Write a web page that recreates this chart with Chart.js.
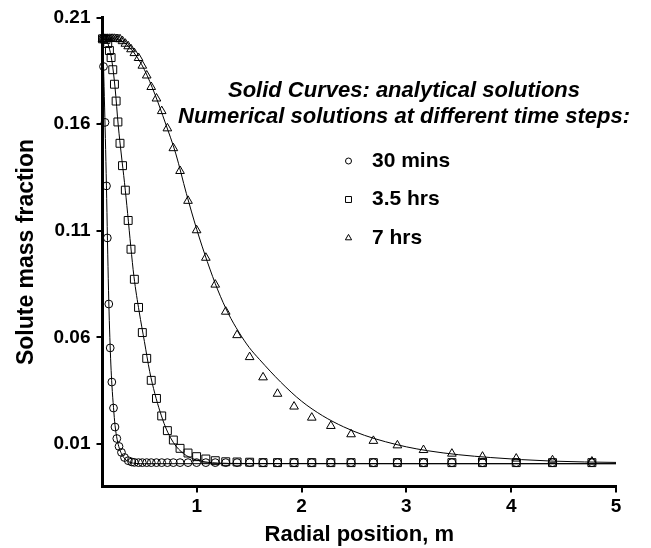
<!DOCTYPE html>
<html>
<head>
<meta charset="utf-8">
<script src="https://cdn.jsdelivr.net/npm/chart.js@4.4.0/dist/chart.umd.min.js"></script>
<style>
    html, body { margin: 0; padding: 0; background: #fff; }
    #wrap { width: 651px; height: 548px; }
</style>
</head>
<body>
<div id="wrap"><canvas id="profileChart" width="651" height="548"></canvas></div>
<script>
// radial grid of the numerical runs (3.5 hrs and 7 hrs)
const radiusGrid = [0.100, 0.116, 0.133, 0.150, 0.166, 0.182, 0.198, 0.214, 0.230, 0.247,
    0.267, 0.291, 0.318, 0.345, 0.372, 0.404, 0.444, 0.480, 0.522, 0.565,
    0.615, 0.665, 0.719, 0.776, 0.840, 0.916, 0.998, 1.086, 1.176, 1.276,
    1.384, 1.504, 1.632, 1.770, 1.928, 2.097, 2.279, 2.472, 2.685, 2.914,
    3.163, 3.434, 3.726, 4.048, 4.394, 4.770];

// the 30 min run is finer close to the well
const radius30 = [0.100, 0.1095, 0.124, 0.138, 0.146, 0.160, 0.1735, 0.189, 0.205, 0.219,
    0.2365, 0.2575, 0.281, 0.310, 0.346, 0.379, 0.404, 0.444, 0.480, 0.522,
    0.565, 0.615, 0.665, 0.719, 0.776, 0.840, 0.916, 0.998, 1.086, 1.176,
    1.276, 1.384, 1.504, 1.632, 1.770, 1.928, 2.097, 2.279, 2.472, 2.685,
    2.914, 3.163, 3.434, 3.726, 4.048, 4.394, 4.770];

const num30 = [0.2000, 0.1870, 0.1608, 0.1310, 0.1066, 0.0756, 0.0550, 0.0390, 0.0268, 0.0179,
    0.0125, 0.0088, 0.0060, 0.0036, 0.0021, 0.0015, 0.0013, 0.0012, 0.0012, 0.0012,
    0.0012, 0.0012, 0.0012, 0.0012, 0.0012, 0.0012, 0.0012, 0.0012, 0.0012, 0.0012,
    0.0012, 0.0012, 0.0012, 0.0012, 0.0012, 0.0012, 0.0012, 0.0012, 0.0012, 0.0012,
    0.0012, 0.0012, 0.0012, 0.0012, 0.0012, 0.0012, 0.0012];

const num35 = [0.2000, 0.2000, 0.1997, 0.1978, 0.1945, 0.1912, 0.1855, 0.1787, 0.1708, 0.1610,
    0.1510, 0.1405, 0.1290, 0.1148, 0.1013, 0.0872, 0.0740, 0.0622, 0.0501, 0.0398,
    0.0313, 0.0231, 0.0162, 0.0118, 0.0079, 0.0057, 0.0040, 0.0029, 0.0021, 0.0016,
    0.0015, 0.0014, 0.0012, 0.0012, 0.0012, 0.0012, 0.0012, 0.0012, 0.0012, 0.0012,
    0.0012, 0.0012, 0.0012, 0.0012, 0.0012, 0.0012];

const num70 = [0.2000, 0.2000, 0.2000, 0.2000, 0.2000, 0.2000, 0.2000, 0.2000, 0.1999, 0.1999,
    0.1998, 0.1989, 0.1977, 0.1965, 0.1951, 0.1933, 0.1910, 0.1874, 0.1828, 0.1774,
    0.1720, 0.1661, 0.1580, 0.1487, 0.1380, 0.1240, 0.1102, 0.0973, 0.0847, 0.0720,
    0.0610, 0.0507, 0.0412, 0.0335, 0.0275, 0.0223, 0.0184, 0.0145, 0.0114, 0.0093,
    0.0071, 0.0054, 0.0040, 0.0031, 0.0023, 0.0017];

// analytical solutions
const curve30X = [0.100, 0.110, 0.120, 0.130, 0.140, 0.150, 0.160, 0.170, 0.180, 0.190,
    0.205, 0.220, 0.240, 0.260, 0.280, 0.300, 0.330, 0.370, 0.420, 0.500, 5.000];
const curve30Y = [0.2000, 0.1865, 0.1680, 0.1480, 0.1250, 0.0990, 0.0770, 0.0600, 0.0470, 0.0375,
    0.0270, 0.0185, 0.0120, 0.0080, 0.0055, 0.0038, 0.0022, 0.0012, 0.0008, 0.0007, 0.0007];

const curve35X = [0.100, 0.130, 0.160, 0.190, 0.220, 0.250, 0.280, 0.310, 0.340, 0.370,
    0.400, 0.450, 0.500, 0.550, 0.600, 0.650, 0.700, 0.750, 0.800, 0.850,
    0.900, 1.000, 1.100, 1.200, 1.400, 5.000];
const curve35Y = [0.2000, 0.1998, 0.1965, 0.1895, 0.1770, 0.1595, 0.1455, 0.1325, 0.1180, 0.1025,
    0.0885, 0.0720, 0.0580, 0.0440, 0.0335, 0.0250, 0.0180, 0.0128, 0.0090, 0.0064,
    0.0045, 0.0024, 0.0014, 0.0010, 0.0008, 0.0007];

const curve70X = [0.10, 0.20, 0.30, 0.40, 0.50, 0.60, 0.70, 0.80, 0.90, 1.00,
    1.10, 1.20, 1.30, 1.40, 1.50, 1.60, 1.80, 2.00, 2.20, 2.40,
    2.60, 2.80, 3.00, 3.20, 3.50, 3.80, 4.10, 4.40, 4.70, 5.00];
const curve70Y = [0.2000, 0.2000, 0.1985, 0.1935, 0.1855, 0.1740, 0.1605, 0.1460, 0.1275, 0.1105,
    0.0955, 0.0822, 0.0712, 0.0625, 0.0552, 0.0495, 0.0390, 0.0300, 0.0232, 0.0180,
    0.0140, 0.0110, 0.0086, 0.0068, 0.0049, 0.0036, 0.0026, 0.0019, 0.0015, 0.0013];

const xTicks = [1, 2, 3, 4, 5];
const yTicks = [0.01, 0.06, 0.11, 0.16, 0.21];

const seriesLabels = ['30 mins', '3.5 hrs', '7 hrs'];
const noteLines = ['Solid Curves: analytical solutions', 'Numerical solutions at different time steps:'];

const FONT = '"Liberation Sans", Arial, Helvetica, sans-serif';

function toPoints(xs, ys) {
    return xs.map((x, i) => ({ x, y: ys[i] }));
}

function curve(xs, ys) {
    return {
        data: toPoints(xs, ys),
        showLine: true,
        borderColor: '#000',
        borderWidth: 1,
        pointRadius: 0,
        cubicInterpolationMode: 'monotone'
    };
}

function markers(xs, ys, style, radius) {
    return {
        data: toPoints(xs, ys),
        showLine: false,
        pointStyle: style,
        pointRadius: radius,
        pointBorderColor: '#000',
        pointBorderWidth: 1,
        pointBackgroundColor: 'rgba(0,0,0,0)',
        clip: false
    };
}

// legend markers and the two note lines
const notesPlugin = {
    id: 'notes',
    afterDraw(chart) {
        const ctx = chart.ctx;
        ctx.save();
        ctx.fillStyle = '#000';
        ctx.textBaseline = 'middle';
        ctx.textAlign = 'center';
        ctx.font = `italic bold 22px ${FONT}`;
        ctx.fillText(noteLines[0], 404, 91);
        ctx.fillText(noteLines[1], 404, 117);

        const keys = [
            { style: 'circle', radius: 3 },
            { style: 'rect', radius: 4.2 },
            { style: 'triangle', radius: 3.6 }
        ];
        ctx.font = `bold 21px ${FONT}`;
        ctx.textAlign = 'left';
        ctx.strokeStyle = '#000';
        ctx.lineWidth = 1;
        keys.forEach((k, i) => {
            const y = 161 + i * 38.5;
            ctx.fillStyle = 'rgba(0,0,0,0)';
            Chart.helpers.drawPoint(ctx, { pointStyle: k.style, radius: k.radius, borderWidth: 1 }, 348.5, y);
            ctx.fillStyle = '#000';
            ctx.fillText(seriesLabels[i], 372, y);
        });
        ctx.restore();
    }
};

new Chart(document.getElementById('profileChart'), {
    type: 'scatter',
    data: {
        datasets: [
            curve(curve30X, curve30Y),
            curve(curve35X, curve35Y),
            curve(curve70X, curve70Y),
            markers(radius30, num30, 'circle', 3.9),
            markers(radiusGrid, num35, 'rect', 5.6),
            markers(radiusGrid, num70, 'triangle', 5)
        ]
    },
    options: {
        responsive: false,
        animation: false,
        layout: { padding: { top: 17.5, right: 35, left: 0, bottom: 0 } },
        plugins: {
            legend: { display: false },
            tooltip: { enabled: false }
        },
        scales: {
            x: {
                type: 'linear',
                min: 0.1,
                max: 5,
                afterBuildTicks: s => { s.ticks = xTicks.map(v => ({ value: v })); },
                afterFit: s => { s.height = 61.5; },
                ticks: {
                    color: '#000',
                    padding: 3,
                    font: { family: FONT, size: 19, weight: 'bold' },
                    callback: v => String(v)
                },
                grid: { drawOnChartArea: false, drawTicks: true, tickLength: 6, color: '#000', lineWidth: 2 },
                border: { color: '#000', width: 3 },
                title: {
                    display: true,
                    text: 'Radial position, m',
                    color: '#000',
                    padding: { top: 0, bottom: 0 },
                    font: { family: FONT, size: 22, weight: 'bold' }
                }
            },
            y: {
                type: 'linear',
                min: -0.01,
                max: 0.21,
                afterBuildTicks: s => { s.ticks = yTicks.map(v => ({ value: v })); },
                afterFit: s => { s.width = 102.5; },
                ticks: {
                    color: '#000',
                    padding: 6,
                    font: { family: FONT, size: 19, weight: 'bold' },
                    callback: v => v.toFixed(2)
                },
                grid: { drawOnChartArea: false, drawTicks: true, tickLength: 6, color: '#000', lineWidth: 2 },
                border: { color: '#000', width: 3 },
                title: {
                    display: true,
                    text: 'Solute mass fraction',
                    color: '#000',
                    padding: { top: 13, bottom: 0 },
                    font: { family: FONT, size: 23, weight: 'bold' }
                }
            }
        }
    },
    plugins: [notesPlugin]
});
</script>
</body>
</html>
